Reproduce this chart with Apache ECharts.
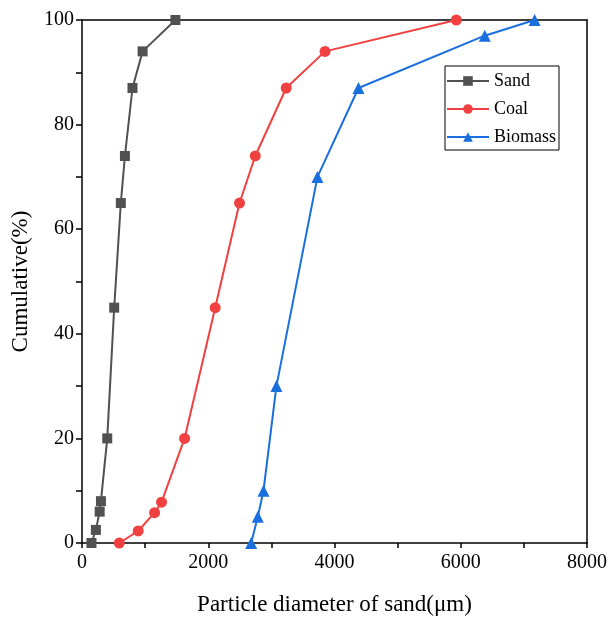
<!DOCTYPE html>
<html>
<head>
<meta charset="utf-8">
<script src="https://cdn.jsdelivr.net/npm/echarts@6/dist/echarts.min.js"></script>
<style>html,body{margin:0;padding:0;background:#fff}#c{width:609px;height:618px}</style>
</head>
<body>
<div id="c"></div>
<script>
const sandX = [150, 220, 280, 300, 400, 510, 615, 680, 800, 960, 1480];
const sandY = [0, 2.5, 6, 8, 20, 45, 65, 74, 87, 94, 100];
const coalX = [590, 890, 1150, 1260, 1625, 2110, 2495, 2745, 3235, 3850, 5930];
const coalY = [0, 2.3, 5.8, 7.8, 20, 45, 65, 74, 87, 94, 100];
const bioX = [2680, 2785, 2875, 3080, 3730, 4380, 6380, 7170];
const bioY = [0, 5, 10, 30, 70, 87, 97, 100];
const xTicks = [0, 2000, 4000, 6000, 8000];
const yTicks = [0, 20, 40, 60, 80, 100];

const pair = (xs, ys) => xs.map((x, i) => [x, ys[i]]);
const font = 'Liberation Serif';
const chart = echarts.init(document.getElementById('c'), null, {renderer: 'canvas'});
const axisLine = {show: true, onZero: false, lineStyle: {color: '#000', width: 1.5}};
chart.setOption({
  animation: false,
  grid: {left: 82, right: 22, top: 20, bottom: 75, containLabel: false, outerBoundsMode: 'none'},
  legend: {
    data: ['Sand', 'Coal', 'Biomass'],
    orient: 'vertical',
    right: 50, top: 66,
    itemWidth: 42, itemHeight: 12, itemGap: 10,
    padding: [6, 3, 4, 1],
    borderColor: '#000', borderWidth: 1,
    textStyle: {fontFamily: font, fontSize: 18, color: '#000'}
  },
  xAxis: [{
    type: 'value', min: 0, max: 8000, interval: 1000,
    axisLine: axisLine,
    axisTick: {show: true, length: 5, inside: false, lineStyle: {color: '#000', width: 1.5}},
    axisLabel: {fontFamily: font, fontSize: 20, color: '#000', margin: 10,
      formatter: v => xTicks.includes(v) ? String(v) : ''},
    splitLine: {show: false},
    name: 'Particle diameter of sand(\u03bcm)', nameLocation: 'middle', nameGap: 50,
    nameTextStyle: {fontFamily: font, fontSize: 23, color: '#000'}
  }, {
    type: 'value', min: 0, max: 8000, position: 'top',
    axisLine: axisLine, axisTick: {show: false}, axisLabel: {show: false}, splitLine: {show: false}
  }],
  yAxis: [{
    type: 'value', min: 0, max: 100, interval: 10,
    axisLine: axisLine,
    axisTick: {show: true, length: 6, lineStyle: {color: '#000', width: 1.5}},
    axisLabel: {fontFamily: font, fontSize: 20, color: '#000', margin: 8,
      formatter: v => yTicks.includes(v) ? String(v) : ''},
    splitLine: {show: false},
    name: 'Cumulative(%)', nameLocation: 'middle', nameGap: 50,
    nameTextStyle: {fontFamily: font, fontSize: 23, color: '#000'}
  }, {
    type: 'value', min: 0, max: 100, position: 'right',
    axisLine: axisLine, axisTick: {show: false}, axisLabel: {show: false}, splitLine: {show: false}
  }],
  series: [
    {name: 'Sand', type: 'line', data: pair(sandX, sandY), symbol: 'rect', symbolSize: 10,
      itemStyle: {color: '#515151'}, lineStyle: {color: '#515151', width: 2}},
    {name: 'Coal', type: 'line', data: pair(coalX, coalY), symbol: 'circle', symbolSize: 11,
      itemStyle: {color: '#F14040'}, lineStyle: {color: '#F14040', width: 2}},
    {name: 'Biomass', type: 'line', data: pair(bioX, bioY), symbol: 'triangle', symbolSize: 12,
      itemStyle: {color: '#1A6FDF'}, lineStyle: {color: '#1A6FDF', width: 2}}
  ]
});
</script>
</body>
</html>
